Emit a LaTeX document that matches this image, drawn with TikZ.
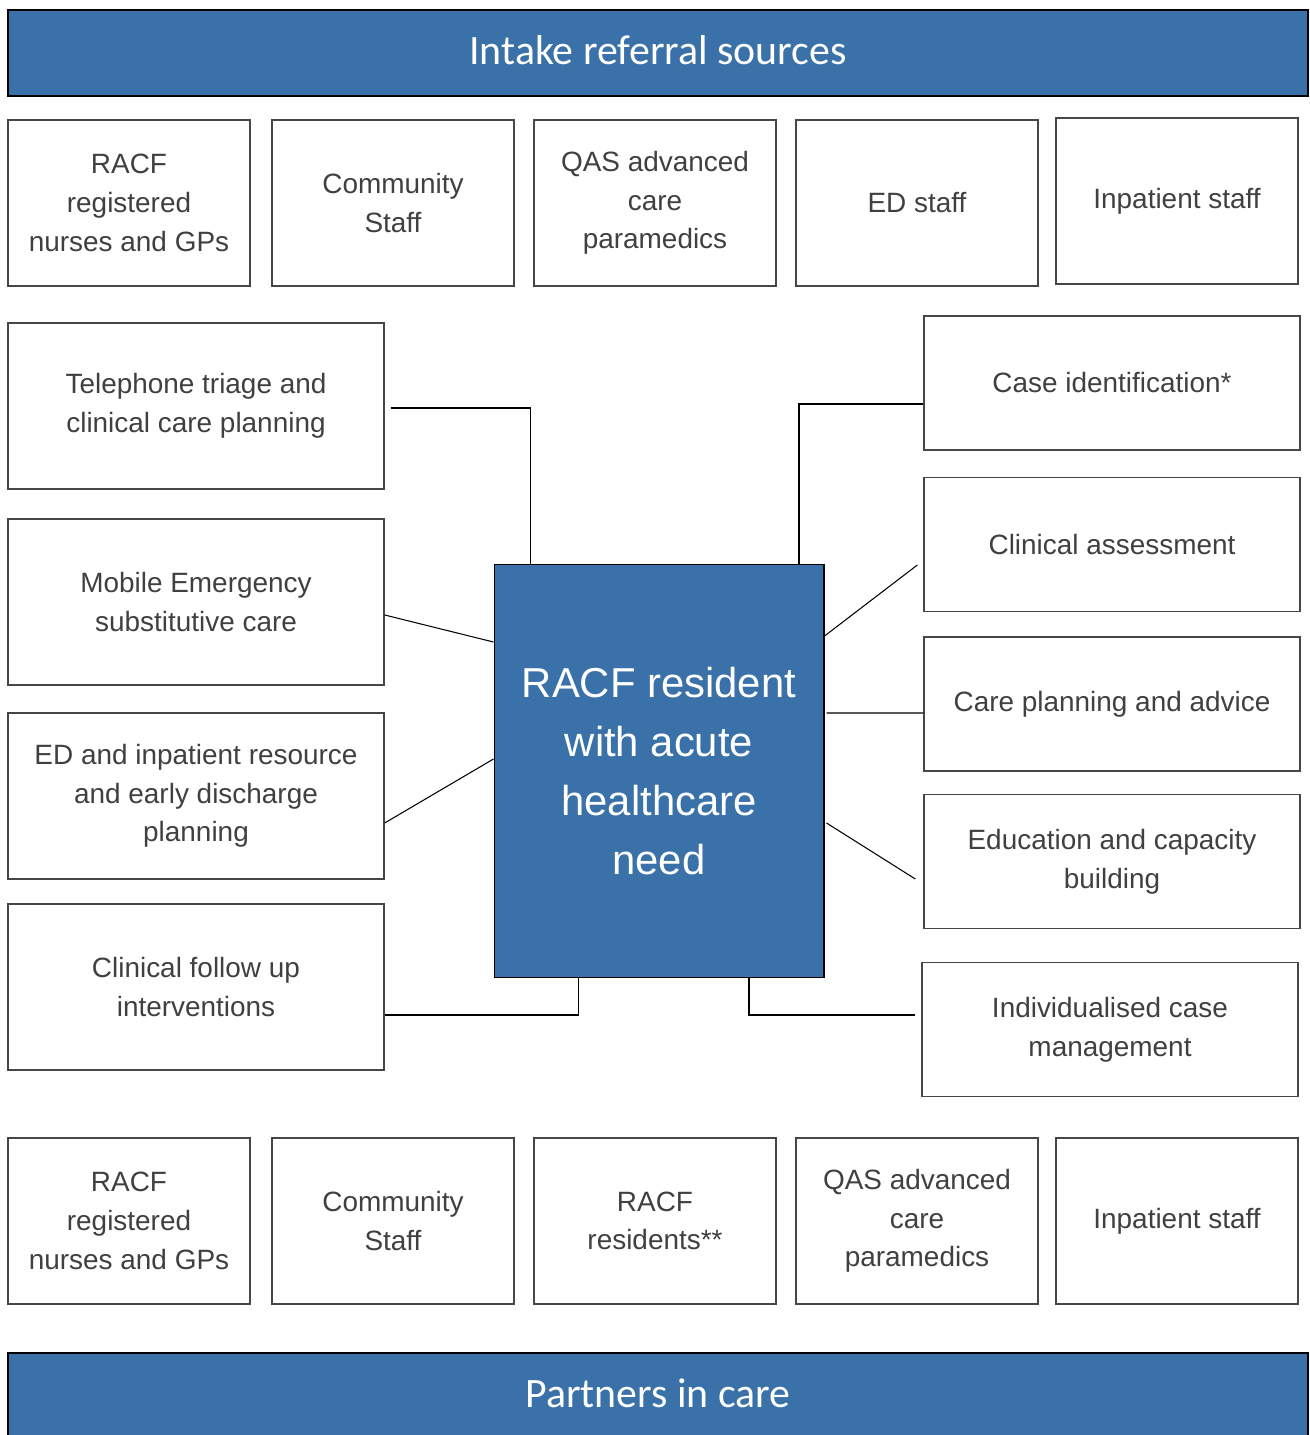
\documentclass[tikz,border=0pt]{standalone}
\usepackage{fontspec}
\setmainfont{Liberation Sans}
\newfontfamily\hdrfont{Carlito}
\usetikzlibrary{calc}
\definecolor{hblue}{RGB}{57,113,168}
\definecolor{tgray}{RGB}{64,64,64}
\definecolor{bgray}{RGB}{70,70,70}
\tikzset{
  box/.style={draw=bgray, line width=0.8pt, fill=white, align=center, text=tgray,
    font=\fontsize{15.9}{22}\selectfont, inner sep=0pt},
  rowbox/.style={box, minimum width=4.84cm, minimum height=3.32cm},
  leftbox/.style={box, minimum width=7.52cm, minimum height=3.32cm},
  rightbox/.style={box, minimum width=7.52cm, minimum height=2.68cm},
  header/.style={draw=black, line width=1.2pt, fill=hblue},
  hdrtext/.style={text=white, font=\hdrfont\fontsize{23.8}{28}\selectfont},
  conn/.style={draw=black, line width=0.6pt}
}
\begin{document}
\begin{tikzpicture}[x=0.02cm,y=-0.02cm]
\useasboundingbox (0,0) rectangle (1309,1435);
% headers
\path[header] (8,10) rectangle (1308,96);
\node[hdrtext] (htop) at (658,50) {Intake referral sources};
\path[header] (8,1353) rectangle (1308,1445);
\node[hdrtext] (hbot) at (658,1393) {Partners in care};
% top row
\node[rowbox] (t1) at (129,203) {RACF\\registered\\nurses and GPs};
\node[rowbox] (t2) at (393,203) {Community\\Staff};
\node[rowbox] (t3) at (655,203) {QAS advanced\\care\\paramedics};
\node[rowbox] (t4) at (917,203) {ED staff};
\node[rowbox] (t5) at (1177,201) {Inpatient staff};
% bottom row
\node[rowbox] (b1) at (129,1221) {RACF\\registered\\nurses and GPs};
\node[rowbox] (b2) at (393,1221) {Community\\Staff};
\node[rowbox] (b3) at (655,1221) {RACF\\residents**};
\node[rowbox] (b4) at (917,1221) {QAS advanced\\care\\paramedics};
\node[rowbox] (b5) at (1177,1221) {Inpatient staff};
% left column
\node[leftbox] (tel) at (196,406) {Telephone triage and\\clinical care planning};
\node[leftbox] (mob) at (196,602) {Mobile Emergency\\substitutive care};
\node[leftbox] (ed) at (196,796) {ED and inpatient resource\\and early discharge\\planning};
\node[leftbox] (fol) at (196,987) {Clinical follow up\\interventions};
% right column
\node[rightbox] (case) at (1112,383) {Case identification*};
\node[rightbox] (assess) at (1112,544.5) {Clinical assessment};
\node[rightbox] (care) at (1112,704) {Care planning and advice};
\node[rightbox] (educ) at (1112,861.5) {Education and capacity\\building};
\node[rightbox] (indiv) at (1110,1029.5) {Individualised case\\management};
% centre
\node[draw=black, line width=0.6pt, fill=hblue, minimum width=6.6cm, minimum height=8.28cm,
  align=center, text=white, font=\fontsize{23.8}{33.5}\selectfont, inner sep=0pt]
  (ctr) at (659,771) {RACF resident\\with acute\\healthcare\\need};
% connectors
\draw[conn] ([xshift=0.12cm,yshift=-0.04cm]tel.east) -| ([xshift=-2.58cm]ctr.north);
\draw[conn] ([yshift=-0.42cm]case.west) -| ([xshift=2.8cm]ctr.north);
\draw[conn] ([yshift=-0.26cm]mob.east) -- ([yshift=2.58cm]ctr.west);
\draw[conn] ([xshift=-0.12cm,yshift=-0.41cm]assess.west) -- ([yshift=2.7cm]ctr.east);
\draw[conn] ([yshift=-0.54cm]ed.east) -- ([yshift=0.24cm]ctr.west);
\draw[conn] ([yshift=-0.18cm]care.west) -- ([xshift=0.04cm,yshift=1.16cm]ctr.east);
\draw[conn] ([xshift=-0.16cm,yshift=-0.35cm]educ.west) -- ([xshift=0.04cm,yshift=-1.04cm]ctr.east);
\draw[conn] ([yshift=-0.56cm]fol.east) -| ([xshift=-1.62cm]ctr.south);
\draw[conn] ([xshift=-0.12cm,yshift=0.29cm]indiv.west) -| ([xshift=1.8cm]ctr.south);
\end{tikzpicture}
\end{document}
